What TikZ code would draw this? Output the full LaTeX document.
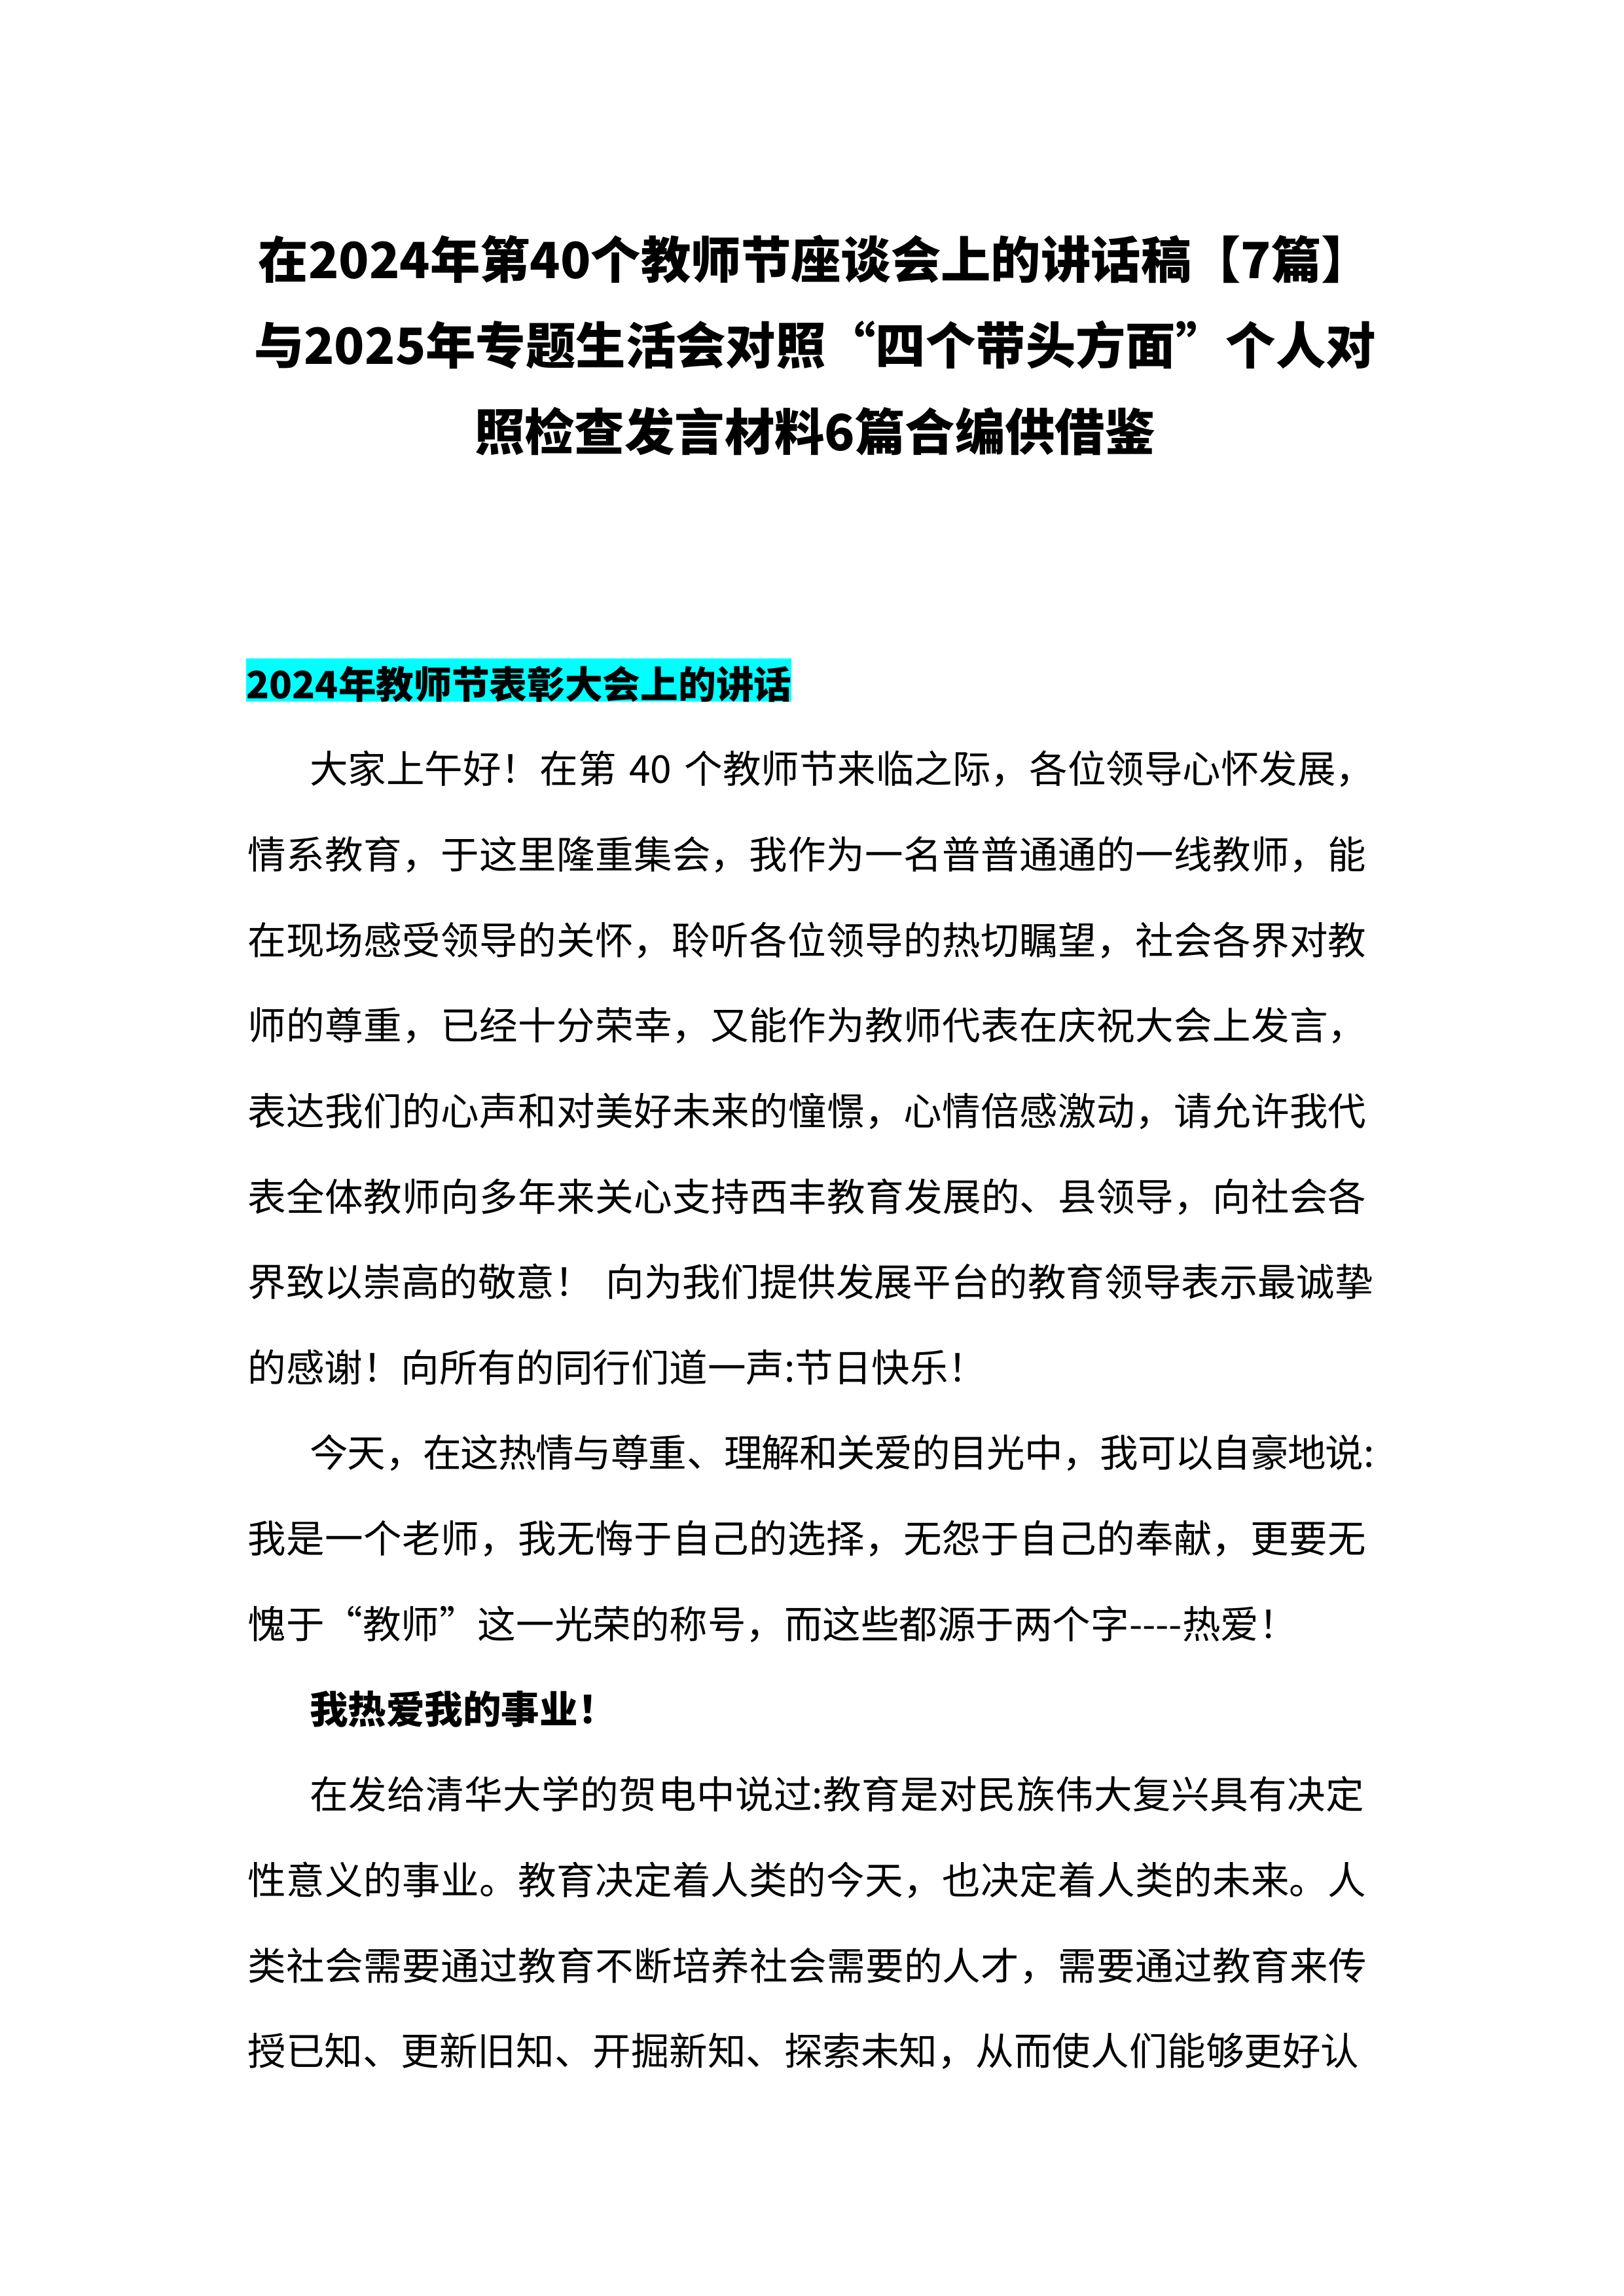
\documentclass[tikz,border=0pt]{standalone}
\usepackage{fontspec}
\newfontfamily\cjk{Noto Sans CJK SC}
\XeTeXlinebreaklocale "zh"
\XeTeXlinebreakskip=0pt plus 1pt minus 0.6pt
\definecolor{hlcyan}{RGB}{0,255,255}
\newcommand{\ind}{\hspace*{0.8cm}}

\begin{document}
\begin{tikzpicture}[
  titleline/.style={anchor=base, inner sep=0pt, font=\cjk\bfseries\fontsize{18.4pt}{22pt}\selectfont},
  hilite/.style={anchor=base west, inner sep=0pt, fill=hlcyan, text height=0.52cm, text depth=0.04cm, font=\cjk\bfseries\fontsize{13.9pt}{17pt}\selectfont},
  para/.style={anchor=base west, inner sep=0pt, text width=14.57cm, font=\cjk\fontsize{14.1pt}{1.106cm}\selectfont},
  boldline/.style={anchor=base west, inner sep=0pt, font=\cjk\bfseries\fontsize{14.1pt}{17pt}\selectfont}
]
\useasboundingbox (0,0) rectangle (21,-29.7);

\foreach \t [count=\i] in {{在2024年第40个教师节座谈会上的讲话稿【7篇】},{与2025年专题生活会对照“四个带头方面”个人对},{照检查发言材料6篇合编供借鉴}}
  \node[titleline] (title\i) at (10.54,{-3.60-(\i-1)*1.115}) {\t};

\node[hilite] (head) at (3.18,-9.04) {2024年教师节表彰大会上的讲话};

\node[para] (p1) at (3.2,-10.134) {\ind 大家上午好！在第 40 个教师节来临之际，各位领导心怀发展，\break
情系教育，于这里隆重集会，我作为一名普普通通的一线教师，能\break
在现场感受领导的关怀，聆听各位领导的热切瞩望，社会各界对教\break
师的尊重，已经十分荣幸，又能作为教师代表在庆祝大会上发言，\break
表达我们的心声和对美好未来的憧憬，心情倍感激动，请允许我代\break
表全体教师向多年来关心支持西丰教育发展的、县领导，向社会各\break
界致以崇高的敬意！ 向为我们提供发展平台的教育领导表示最诚挚\break
的感谢！向所有的同行们道一声:节日快乐！};

\node[para] (p2) at (3.2,-18.98) {\ind 今天，在这热情与尊重、理解和关爱的目光中，我可以自豪地说:\break
我是一个老师，我无悔于自己的选择，无怨于自己的奉献，更要无\break
愧于“教师”这一光荣的称号，而这些都源于两个字----热爱！};

\node[boldline] (love) at (4.0,-22.297) {我热爱我的事业！};

\node[para] (p3) at (3.2,-23.40) {\parfillskip=0pt\ind 在发给清华大学的贺电中说过:教育是对民族伟大复兴具有决定\break
性意义的事业。教育决定着人类的今天，也决定着人类的未来。人\break
类社会需要通过教育不断培养社会需要的人才，需要通过教育来传\break
授已知、更新旧知、开掘新知、探索未知，从而使人们能够更好认};
\end{tikzpicture}
\end{document}
